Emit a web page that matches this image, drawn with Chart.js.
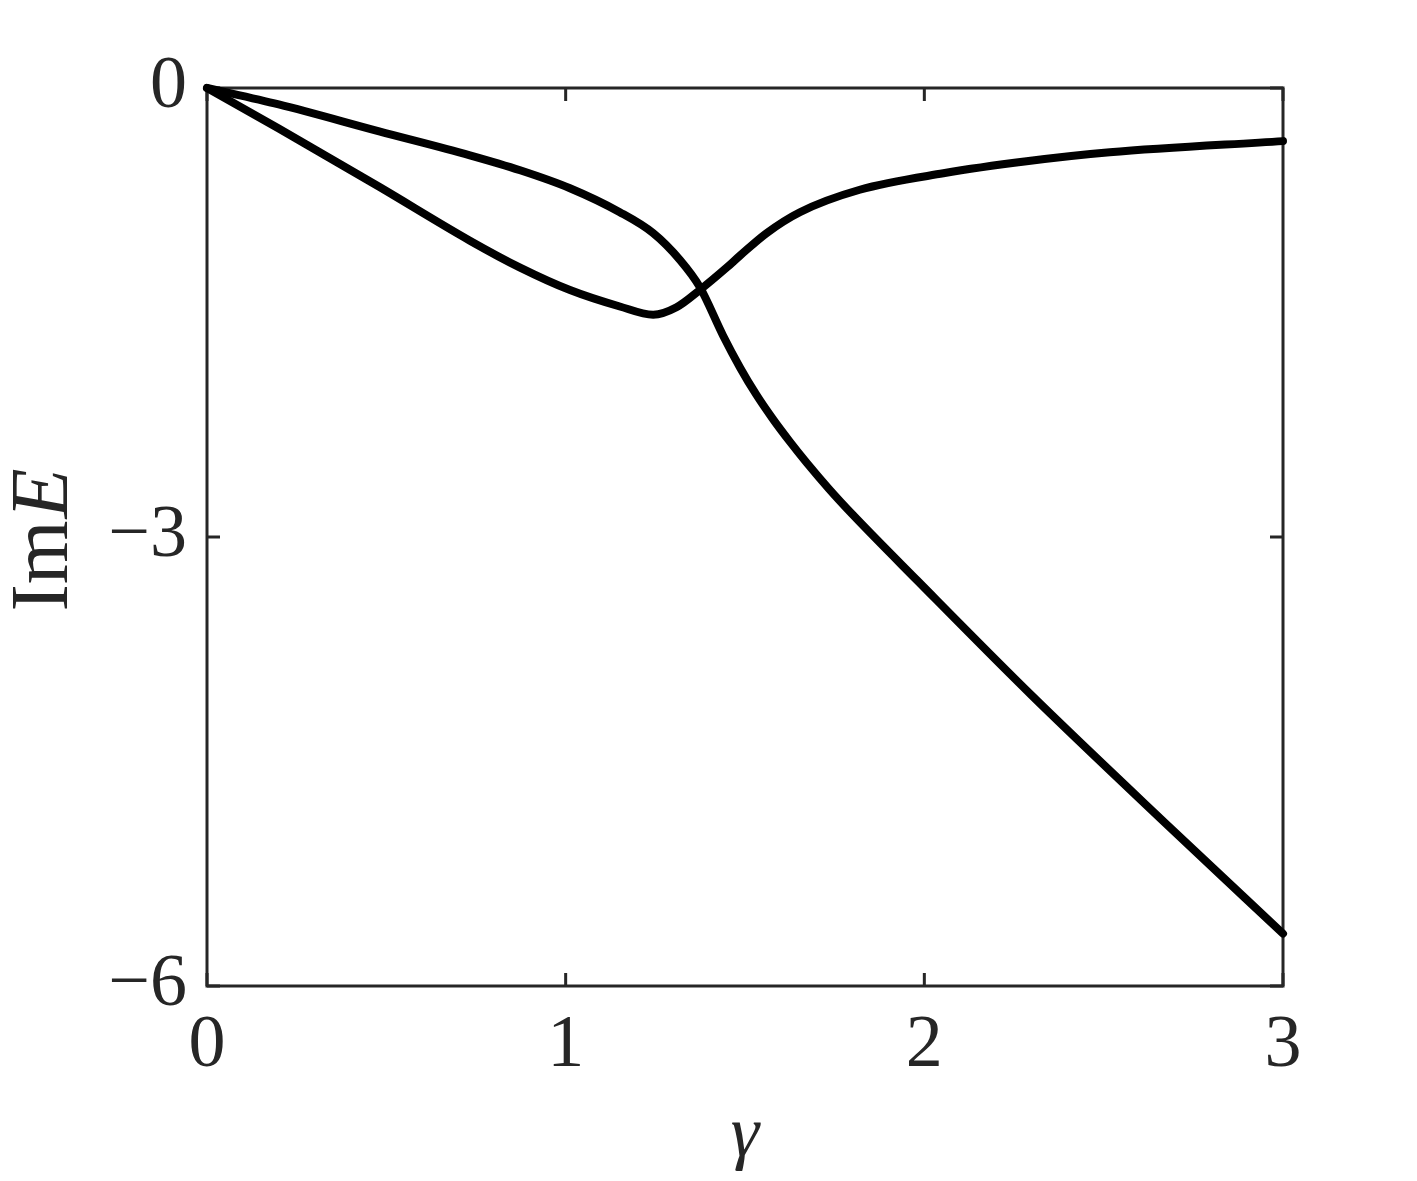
<!DOCTYPE html>
<html>
<head>
<meta charset="utf-8">
<title>Im E vs gamma</title>
<script src="https://cdn.jsdelivr.net/npm/chart.js"></script>
<style>
	html, body	{ margin: 0; padding: 0; background: #fff; }
	#wrap		{ width: 1417px; height: 1181px; }
</style>
</head>
<body>
<div id="wrap"><canvas id="myChart" width="1417" height="1181"></canvas></div>
<script>
// branch that starts on top and dives after the crossing
const gammaA	= [ 0, 0.20, 0.48, 0.733, 0.873, 1.012, 1.151, 1.244, 1.319, 1.374, 1.439, 1.486, 1.532, 1.579, 1.625, 1.672, 1.734, 1.802, 1.98, 2.30, 2.68, 3.00 ];
const imA		= [ 0, -0.11, -0.29, -0.45, -0.55, -0.67, -0.83, -0.97, -1.15, -1.33, -1.655, -1.867, -2.051, -2.216, -2.363, -2.504, -2.678, -2.855, -3.29, -4.06, -4.93, -5.65 ];

// branch that starts below, has a minimum, then climbs back toward 0
const gammaB	= [ 0, 0.20, 0.48, 0.733, 0.873, 1.012, 1.151, 1.244, 1.309, 1.374, 1.449, 1.486, 1.56, 1.653, 1.82, 2.053, 2.285, 2.517, 3.00 ];
const imB		= [ 0, -0.27, -0.66, -1.02, -1.20, -1.35, -1.46, -1.515, -1.465, -1.35, -1.20, -1.12, -0.97, -0.83, -0.68, -0.57, -0.49, -0.43, -0.355 ];

const xTicks	= [ 0, 1, 2, 3 ];
const yTicks	= [ -6, -3, 0 ];
const xTitle	= "γ";
const yTitleUp	= "Im";
const yTitleIt	= "E";

const AXIS_COLOR	= "#262626";
const FONT			= "'Liberation Serif', 'DejaVu Serif', serif";
const TICK_SIZE		= 74;

function zipPoints( xs, ys ) {
	return xs.map( ( x, i ) => ( { x: x, y: ys[ i ] } ) );
}

function minusLabel( v ) {
	return v < 0 ? "\u2212" + Math.abs( v ) : String( v );
}

// boxed axes with inward tick marks
const framePlugin = {
	id: "frame",
	beforeDatasetsDraw( chart ) {
		const ctx	= chart.ctx;
		const a		= chart.chartArea;
		const sx	= chart.scales.x;
		const sy	= chart.scales.y;
		const len	= 13;

		ctx.save();
		ctx.strokeStyle	= AXIS_COLOR;
		ctx.lineWidth	= 3;
		ctx.strokeRect( a.left, a.top, a.right - a.left, a.bottom - a.top );

		ctx.beginPath();
		for ( const t of xTicks ) {
			const px = sx.getPixelForValue( t );
			ctx.moveTo( px, a.bottom );	ctx.lineTo( px, a.bottom - len );
			ctx.moveTo( px, a.top );	ctx.lineTo( px, a.top + len );
		}
		for ( const t of yTicks ) {
			const py = sy.getPixelForValue( t );
			ctx.moveTo( a.left, py );	ctx.lineTo( a.left + len, py );
			ctx.moveTo( a.right, py );	ctx.lineTo( a.right - len, py );
		}
		ctx.stroke();
		ctx.restore();
	},
	afterDraw( chart ) {
		// "Im" upright + "E" italic, rotated
		const ctx	= chart.ctx;
		const size	= 82;
		const up	= size + "px " + FONT;
		const it	= "italic " + size + "px " + FONT;
		const cy	= ( chart.chartArea.top + chart.chartArea.bottom ) / 2 + 4;

		ctx.save();
		ctx.fillStyle		= AXIS_COLOR;
		ctx.textBaseline	= "alphabetic";
		ctx.textAlign		= "left";
		ctx.font = up;
		const w1 = ctx.measureText( yTitleUp ).width;
		ctx.font = it;
		const w2 = ctx.measureText( yTitleIt ).width;

		ctx.translate( 40, cy );
		ctx.rotate( -Math.PI / 2 );
		const x0	= -( w1 + w2 ) / 2;
		const base	= size * 0.33;
		ctx.font = up;
		ctx.fillText( yTitleUp, x0, base );
		ctx.font = it;
		ctx.fillText( yTitleIt, x0 + w1 + 2, base );
		ctx.restore();
	}
};

const lineStyle = {
	showLine: true,
	borderColor: "#000",
	backgroundColor: "#000",
	borderWidth: 8,
	pointRadius: 0,
	cubicInterpolationMode: "monotone",
	borderCapStyle: "round",
	borderJoinStyle: "round",
	clip: false
};

const cs = {
	type: "scatter",
	data: {
		datasets: [
			Object.assign( { label: "A", data: zipPoints( gammaA, imA ) }, lineStyle ),
			Object.assign( { label: "B", data: zipPoints( gammaB, imB ) }, lineStyle )
		]
	},
	options: {
		responsive: false,
		devicePixelRatio: 1,
		animation: false,
		layout: { padding: { left: 0, right: 134, top: 88, bottom: 0 } },
		plugins: {
			legend: { display: false },
			tooltip: { enabled: false }
		},
		scales: {
			x: {
				type: "linear",
				min: 0,
				max: 3,
				afterBuildTicks: s => { s.ticks = xTicks.map( v => ( { value: v } ) ); },
				afterFit: s => { s.height = 195; },
				grid: { display: false, drawTicks: false },
				border: { display: false },
				ticks: {
					color: AXIS_COLOR,
					font: { family: FONT, size: TICK_SIZE },
					padding: 16,
					maxRotation: 0,
					callback: v => minusLabel( v )
				},
				title: {
					display: true,
					text: xTitle,
					color: AXIS_COLOR,
					font: { family: FONT, size: 72, style: "italic", lineHeight: 1.0 },
					padding: { top: 0, bottom: 8 }
				}
			},
			y: {
				type: "linear",
				min: -6,
				max: 0,
				afterBuildTicks: s => { s.ticks = yTicks.map( v => ( { value: v } ) ); },
				afterFit: s => { s.width = 207; },
				grid: { display: false, drawTicks: false },
				border: { display: false },
				ticks: {
					color: AXIS_COLOR,
					font: { family: FONT, size: TICK_SIZE },
					padding: 20,
					callback: v => minusLabel( v )
				}
			}
		}
	},
	plugins: [ framePlugin ]
};

const chart = new Chart( document.getElementById( "myChart" ), cs );
</script>
</body>
</html>
